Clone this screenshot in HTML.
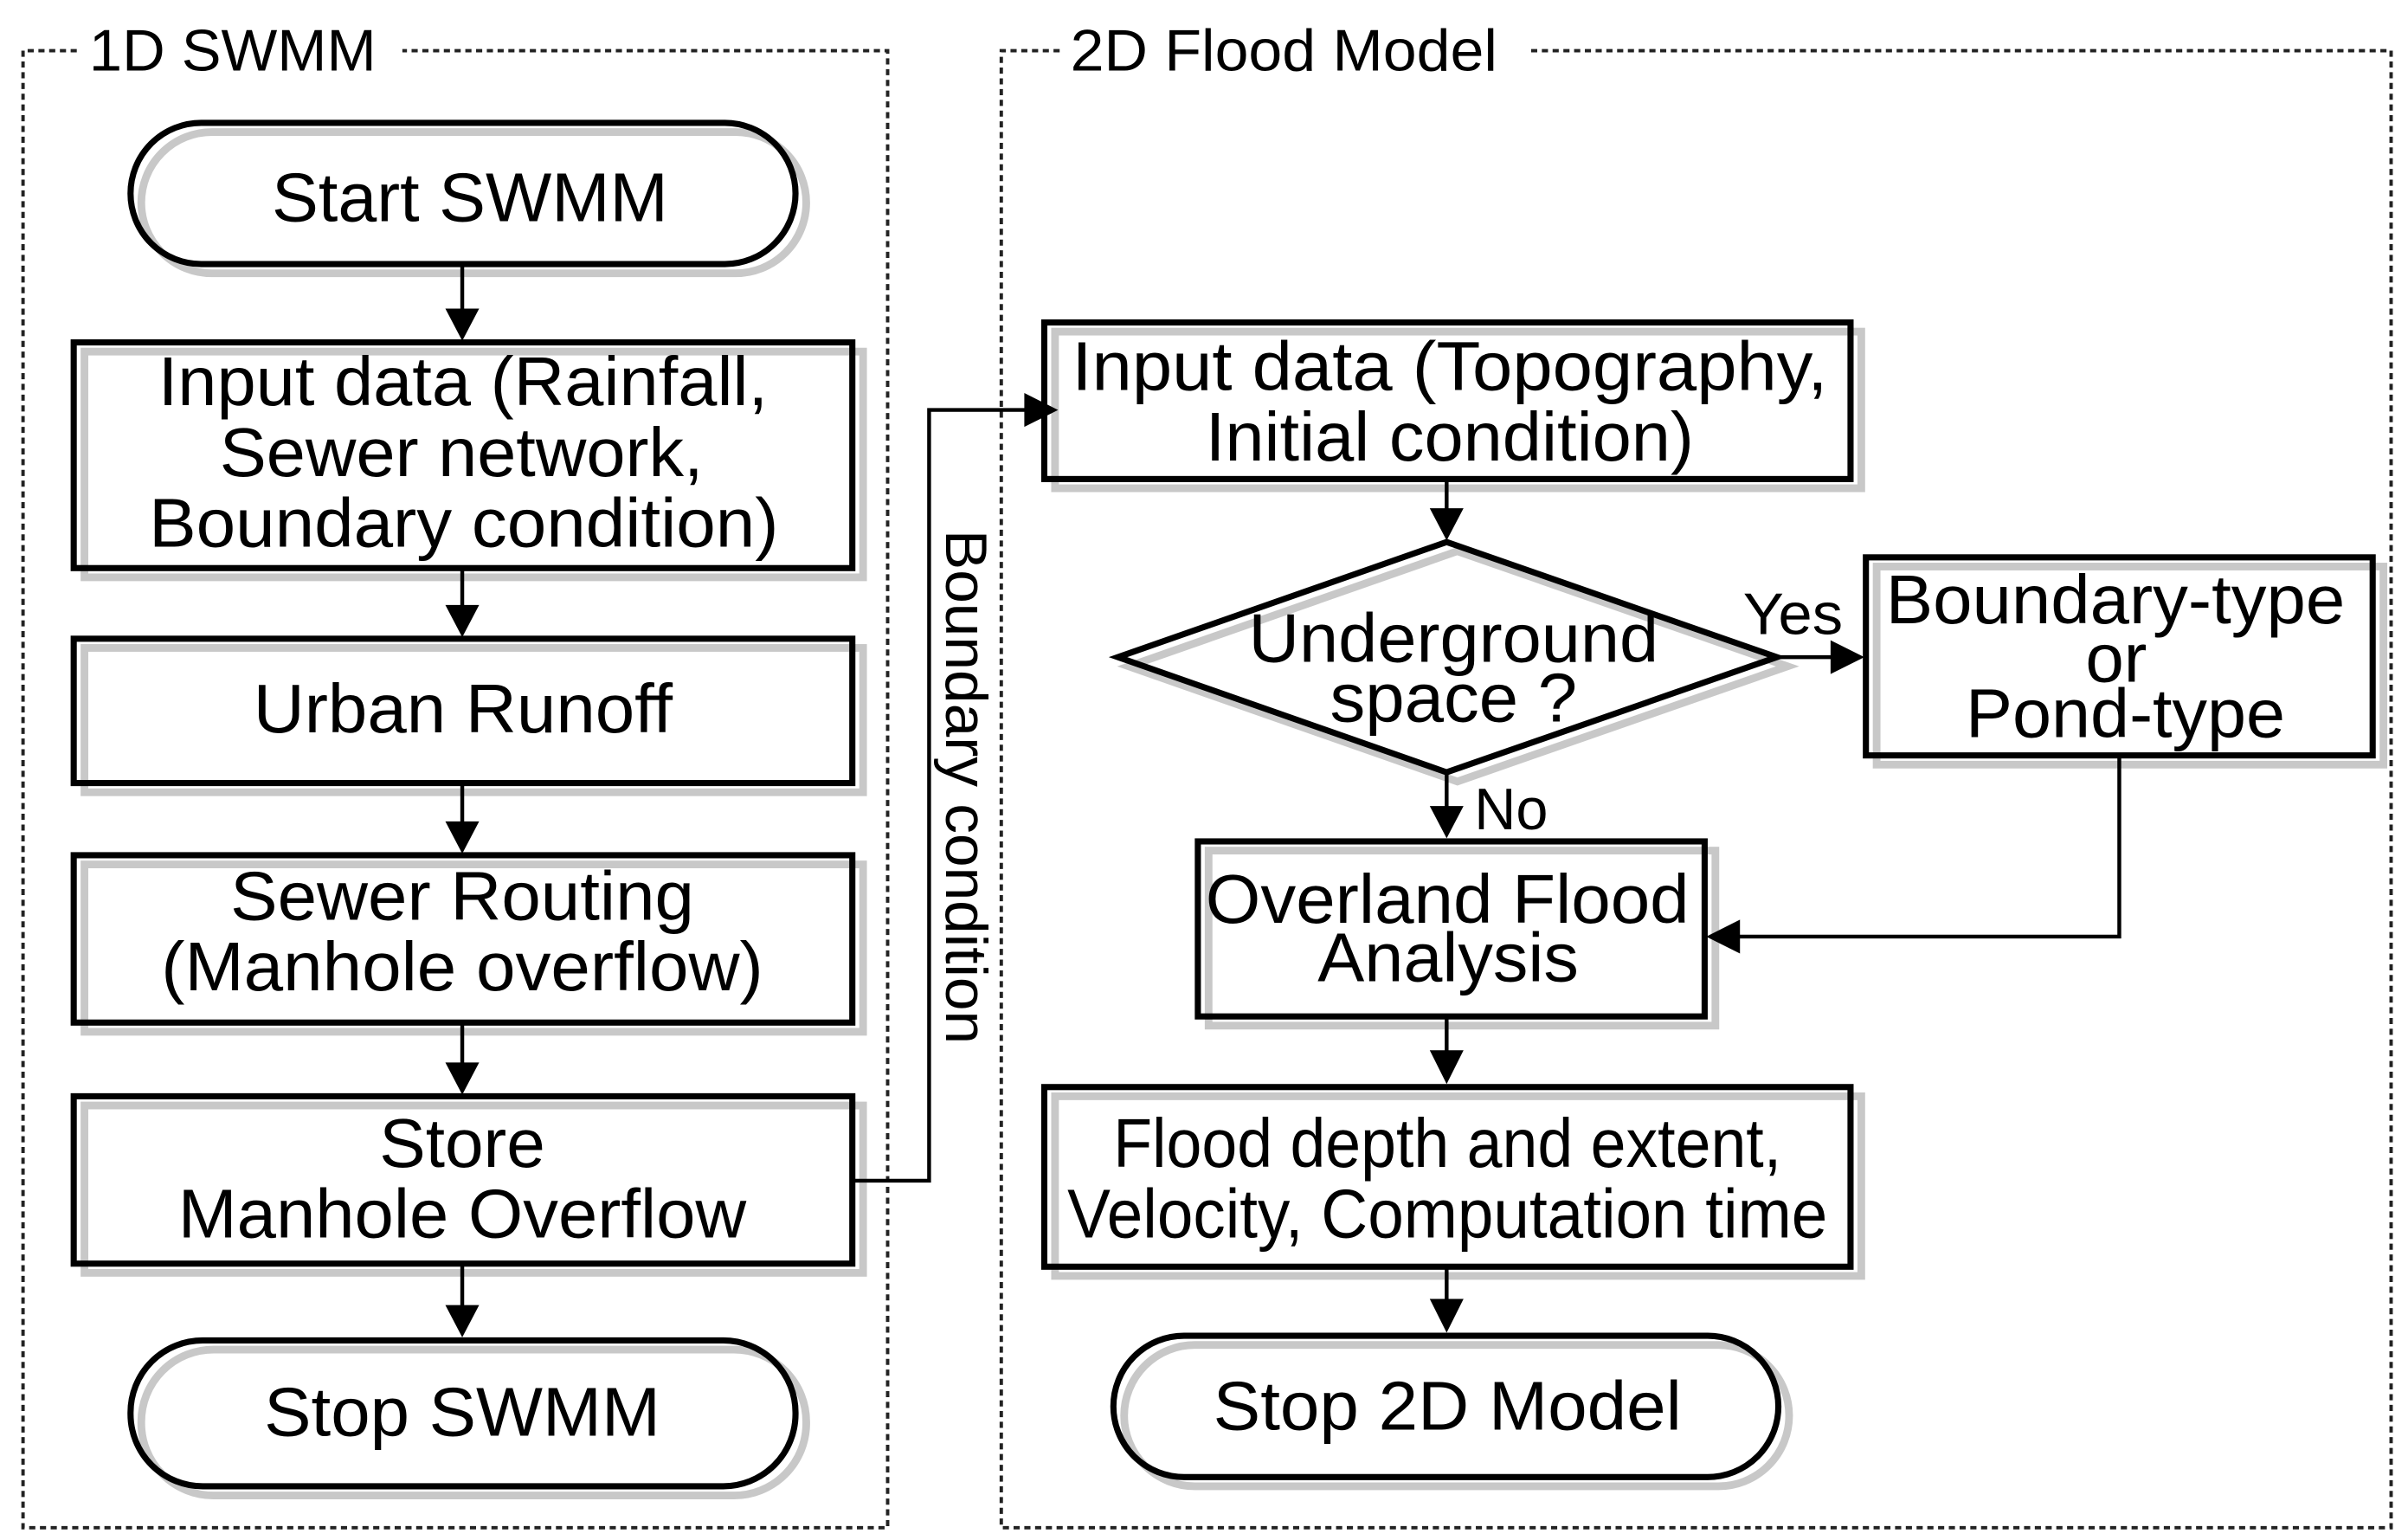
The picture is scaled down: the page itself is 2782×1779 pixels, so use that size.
<!DOCTYPE html>
<html><head><meta charset="utf-8"><style>
html,body{margin:0;padding:0;background:#fff;}
svg{display:block;}
text{font-family:"Liberation Sans",Arial,sans-serif;fill:#000;}
</style></head><body>
<svg width="2782" height="1779" viewBox="0 0 1568 1003" preserveAspectRatio="none" xmlns="http://www.w3.org/2000/svg">
<rect width="1568" height="1003" fill="#fff"/>
<g fill="none" stroke="#222" stroke-width="2.2" stroke-dasharray="4,3">
<path d="M50,33H15V995H578V33H262"/>
<path d="M690,33H652V995H1557V33H995"/>
</g>
<g fill="none" stroke="#c8c8c8" stroke-width="5">
<rect x="92" y="86" width="433" height="92" rx="46"/>
<rect x="55" y="229" width="507" height="147"/>
<rect x="55" y="422" width="507" height="94"/>
<rect x="55" y="563" width="507" height="109"/>
<rect x="55" y="720" width="507" height="109"/>
<rect x="92" y="879" width="433" height="95" rx="47"/>
<rect x="687" y="216" width="525" height="102"/>
<path d="M735,434L949,359L1164,434L949,509Z"/>
<rect x="1222" y="369" width="330" height="129"/>
<rect x="787" y="554" width="330" height="114"/>
<rect x="687" y="714" width="525" height="117"/>
<rect x="732" y="876" width="433" height="92" rx="46"/>
</g>
<g fill="none" stroke="#000" stroke-width="4">
<rect x="85" y="80" width="433" height="92" rx="46"/>
<rect x="48" y="223" width="507" height="147"/>
<rect x="48" y="416" width="507" height="94"/>
<rect x="48" y="557" width="507" height="109"/>
<rect x="48" y="714" width="507" height="109"/>
<rect x="85" y="873" width="433" height="95" rx="47"/>
<rect x="680" y="210" width="525" height="102"/>
<path d="M728,428L942,353L1157,428L942,503Z"/>
<rect x="1215" y="363" width="330" height="129"/>
<rect x="780" y="548" width="330" height="114"/>
<rect x="680" y="708" width="525" height="117"/>
<rect x="725" y="870" width="433" height="92" rx="46"/>
</g>
<g fill="none" stroke="#000" stroke-width="2.5">
<path d="M301,172V205"/>
<path d="M301,370V398"/>
<path d="M301,510V539"/>
<path d="M301,666V696"/>
<path d="M301,823V853"/>
<path d="M555,769H605V267H670"/>
<path d="M942,312V335"/>
<path d="M1157,428H1195"/>
<path d="M942,503V528"/>
<path d="M1380,492V610H1130"/>
<path d="M942,662V688"/>
<path d="M942,825V850"/>
</g>
<g fill="#000">
<path d="M290,201H312L301,222Z"/>
<path d="M290,394H312L301,415Z"/>
<path d="M290,535H312L301,556Z"/>
<path d="M290,692H312L301,713Z"/>
<path d="M290,850H312L301,871Z"/>
<path d="M667,256V278L689,267Z"/>
<path d="M931,331H953L942,352Z"/>
<path d="M1192,417V439L1214,428Z"/>
<path d="M931,525H953L942,546Z"/>
<path d="M931,684H953L942,706Z"/>
<path d="M931,846H953L942,868Z"/>
<path d="M1133,599V621L1111,610Z"/>
</g>
<g font-size="45">
<text x="177" y="144" textLength="258" lengthAdjust="spacingAndGlyphs">Start SWMM</text>
<text x="103" y="264" textLength="397" lengthAdjust="spacingAndGlyphs">Input data (Rainfall,</text>
<text x="143" y="310" textLength="315" lengthAdjust="spacingAndGlyphs">Sewer network,</text>
<text x="97" y="356" textLength="410" lengthAdjust="spacingAndGlyphs">Boundary condition)</text>
<text x="165" y="477" textLength="273" lengthAdjust="spacingAndGlyphs">Urban Runoff</text>
<text x="150" y="599" textLength="302" lengthAdjust="spacingAndGlyphs">Sewer Routing</text>
<text x="105" y="645" textLength="392" lengthAdjust="spacingAndGlyphs">(Manhole overflow)</text>
<text x="247" y="760" textLength="108" lengthAdjust="spacingAndGlyphs">Store</text>
<text x="116" y="806" textLength="370" lengthAdjust="spacingAndGlyphs">Manhole Overflow</text>
<text x="172" y="935" textLength="258" lengthAdjust="spacingAndGlyphs">Stop SWMM</text>
<text x="698" y="254" textLength="492" lengthAdjust="spacingAndGlyphs">Input data (Topography,</text>
<text x="785" y="300" textLength="318" lengthAdjust="spacingAndGlyphs">Initial condition)</text>
<text x="813" y="431" textLength="267" lengthAdjust="spacingAndGlyphs">Underground</text>
<text x="866" y="470" textLength="161" lengthAdjust="spacingAndGlyphs">space ?</text>
<text x="1228" y="406" textLength="299" lengthAdjust="spacingAndGlyphs">Boundary-type</text>
<text x="1358" y="444" textLength="40" lengthAdjust="spacingAndGlyphs">or</text>
<text x="1280" y="480" textLength="208" lengthAdjust="spacingAndGlyphs">Pond-type</text>
<text x="785" y="601" textLength="315" lengthAdjust="spacingAndGlyphs">Overland Flood</text>
<text x="858" y="639" textLength="170" lengthAdjust="spacingAndGlyphs">Analysis</text>
<text x="725" y="760" textLength="435" lengthAdjust="spacingAndGlyphs">Flood depth and extent,</text>
<text x="695" y="806" textLength="495" lengthAdjust="spacingAndGlyphs">Velocity, Computation time</text>
<text x="790" y="931" textLength="305" lengthAdjust="spacingAndGlyphs">Stop 2D Model</text>
</g>
<text x="58" y="46" font-size="38" textLength="187" lengthAdjust="spacingAndGlyphs">1D SWMM</text>
<text x="697" y="46" font-size="38" textLength="278" lengthAdjust="spacingAndGlyphs">2D Flood Model</text>
<text x="1135" y="413" font-size="38" textLength="65" lengthAdjust="spacingAndGlyphs">Yes</text>
<text x="960" y="540" font-size="38" textLength="48" lengthAdjust="spacingAndGlyphs">No</text>
<text transform="translate(616,345) rotate(90)" font-size="38" textLength="335" lengthAdjust="spacingAndGlyphs">Boundary condition</text>
</svg>
</body></html>
